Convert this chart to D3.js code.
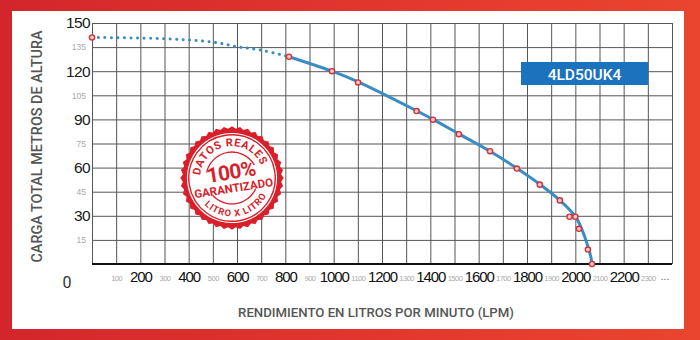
<!DOCTYPE html>
<html>
<head>
<meta charset="utf-8">
<script src="https://cdn.jsdelivr.net/npm/d3@7"></script>
<style>
  body { margin: 0; background: #fff; }
  svg { display: block; font-family: Roboto, "Open Sans", sans-serif; }
</style>
</head>
<body>
<div id="chart"></div>
<script>
// chart values
var modelName = "4LD50UK4";
var xMajorTicks = [200, 400, 600, 800, 1000, 1200, 1400, 1600, 1800, 2000, 2200];
var xMinorTicks = [100, 300, 500, 700, 900, 1100, 1300, 1500, 1700, 1900, 2100, 2300];
var yMajorTicks = [30, 60, 90, 120, 150];
var yMinorTicks = [15, 45, 75, 105, 135];

// measured points (LPM, metres)
var pointFlow = [0, 815, 993, 1101, 1343, 1411, 1518, 1647, 1758, 1853, 1936, 1976, 2000, 2015, 2052, 2069];
var pointHead = [141, 129, 120, 113, 95.2, 89.8, 80.8, 70.2, 59.4, 49.4, 39.6, 29.4, 29.4, 21.9, 9, 0];

// dotted (extrapolated) part of the curve
var dottedFlow = [0, 300, 500, 600, 700, 815];
var dottedHead = [141, 140.2, 138.1, 135.3, 133.1, 129];

// fitted solid curve
var curveFlow = [815, 993, 1101, 1343, 1411, 1518, 1647, 1758, 1853, 1936, 2000, 2030, 2052, 2064, 2069];
var curveHead = [129, 120, 113.4, 95.4, 90, 81, 70.2, 59.6, 49.6, 39.6, 29.6, 20.5, 11, 4.5, 0];

var W = 700, H = 340;
var margin = { top: 23, right: 28, bottom: 76, left: 92 };
var plotW = 672 - margin.left;
var plotH = 264 - margin.top;

var svg = d3.select("#chart").append("svg")
    .attr("width", W)
    .attr("height", H);

// red frame
var defs = svg.append("defs");
var grad = defs.append("linearGradient")
    .attr("id", "frameGrad")
    .attr("x1", "0%").attr("x2", "100%").attr("y1", "0%").attr("y2", "0%");
grad.append("stop").attr("offset", "0%").attr("stop-color", "#d3262c");
grad.append("stop").attr("offset", "55%").attr("stop-color", "#e2372e");
grad.append("stop").attr("offset", "100%").attr("stop-color", "#e9452f");

svg.append("rect").attr("width", W).attr("height", H).attr("fill", "url(#frameGrad)");
svg.append("rect")
    .attr("x", 12).attr("y", 11)
    .attr("width", 672).attr("height", 318)
    .attr("fill", "#fff");

var x = d3.scaleLinear().domain([0, 2400]).range([0, plotW]);
var y = d3.scaleLinear().domain([0, 150]).range([plotH, 0]);
var fmt = d3.format("d");

var g = svg.append("g")
    .attr("transform", "translate(" + margin.left + "," + margin.top + ")");

// grid
var xGrid = [0].concat(xMajorTicks, xMinorTicks, [2400]);
var yGrid = yMajorTicks.concat(yMinorTicks);

g.append("g")
    .attr("class", "grid")
    .attr("transform", "translate(0," + plotH + ")")
    .call(d3.axisBottom(x).tickValues(xGrid).tickSize(-plotH).tickFormat(""))
    .call(function (s) { s.select(".domain").remove(); });

g.append("g")
    .attr("class", "grid")
    .call(d3.axisLeft(y).tickValues(yGrid).tickSize(-plotW).tickFormat(""))
    .call(function (s) { s.select(".domain").remove(); });

g.selectAll(".grid line")
    .attr("stroke", "#555")
    .attr("stroke-width", 1);

// baseline
g.append("line")
    .attr("x1", x(0)).attr("x2", x(2400))
    .attr("y1", y(0)).attr("y2", y(0))
    .attr("stroke", "#111")
    .attr("stroke-width", 2.2);

// y labels
g.append("g")
    .call(d3.axisLeft(y).tickValues(yMajorTicks).tickSize(0).tickPadding(2).tickFormat(fmt))
    .call(function (s) {
        s.select(".domain").remove();
        s.selectAll("text")
            .attr("fill", "#1a1a1a")
            .style("font-size", "15.5px")
            .style("letter-spacing", "-0.6px");
    });

g.append("g")
    .call(d3.axisLeft(y).tickValues(yMinorTicks).tickSize(0).tickPadding(6).tickFormat(fmt))
    .call(function (s) {
        s.select(".domain").remove();
        s.selectAll("text")
            .attr("fill", "#a8a8a8")
            .style("font-size", "8.5px");
    });

// x labels
g.append("g")
    .attr("transform", "translate(0," + plotH + ")")
    .call(d3.axisBottom(x).tickValues(xMajorTicks).tickSize(0).tickFormat(fmt))
    .call(function (s) {
        s.select(".domain").remove();
        s.selectAll("text")
            .attr("y", 17.5).attr("dy", 0)
            .attr("fill", "#111")
            .style("font-size", "15px")
            .style("font-weight", 500)
            .style("letter-spacing", "-1.1px");
    });

g.append("g")
    .attr("transform", "translate(0," + plotH + ")")
    .call(d3.axisBottom(x).tickValues(xMinorTicks).tickSize(0).tickFormat(fmt))
    .call(function (s) {
        s.select(".domain").remove();
        s.selectAll("text")
            .attr("y", 16.5).attr("dy", 0)
            .attr("fill", "#a8a8a8")
            .style("font-size", "7.5px")
            .style("letter-spacing", "-0.5px");
    });

// origin label and trailing dots
g.append("text")
    .attr("x", x(0) - 25)
    .attr("y", y(0) + 24)
    .attr("text-anchor", "middle")
    .attr("fill", "#333")
    .style("font-size", "16px")
    .text("0");

g.append("text")
    .attr("x", x(2400) - 7)
    .attr("y", y(0) + 16)
    .attr("text-anchor", "middle")
    .attr("fill", "#666")
    .style("font-size", "11px")
    .text("...");

// axis titles
svg.append("text")
    .attr("transform", "translate(42," + (margin.top + plotH / 2 + 3) + ") rotate(-90)")
    .attr("text-anchor", "middle")
    .attr("fill", "#555")
    .style("font-size", "14.4px")
    .style("font-weight", 500)
    .text("CARGA TOTAL METROS DE ALTURA");

svg.append("text")
    .attr("x", 376)
    .attr("y", 317)
    .attr("text-anchor", "middle")
    .attr("fill", "#555")
    .style("font-size", "13.2px")
    .style("font-weight", 500)
    .text("RENDIMIENTO EN LITROS POR MINUTO (LPM)");

// stamp
var stamp = svg.append("g")
    .attr("transform", "translate(232,178) rotate(-9) scale(1.1)");
var stampRed = "#d81f2a";
var teeth = d3.range(0, 80).map(function (i) {
    var a = i / 80 * Math.PI * 2;
    var r = i % 2 === 0 ? 47 : 44.8;
    return [r * Math.cos(a), r * Math.sin(a)];
});
stamp.append("path")
    .attr("d", d3.line().curve(d3.curveLinearClosed)(teeth))
    .attr("fill", stampRed);
stamp.append("circle").attr("r", 41).attr("fill", "#fff");
stamp.append("circle").attr("r", 39.3).attr("fill", "none")
    .attr("stroke", stampRed).attr("stroke-width", 1.3);

defs.append("path").attr("id", "stampTop")
    .attr("d", "M -29,0 A 29,29 0 0 1 29,0");
defs.append("path").attr("id", "stampBottom")
    .attr("d", "M -35,0 A 35,35 0 0 0 35,0");

stamp.append("text")
    .attr("fill", stampRed)
    .style("font-size", "10px")
    .style("font-weight", 700)
    .style("letter-spacing", "0.6px")
    .append("textPath")
    .attr("href", "#stampTop")
    .attr("startOffset", "50%")
    .attr("text-anchor", "middle")
    .text("DATOS REALES");

stamp.append("text")
    .attr("fill", stampRed)
    .style("font-size", "8.5px")
    .style("font-weight", 700)
    .style("letter-spacing", "0.8px")
    .append("textPath")
    .attr("href", "#stampBottom")
    .attr("startOffset", "50%")
    .attr("text-anchor", "middle")
    .text("LITRO X LITRO");

var arc = d3.arc().innerRadius(23).outerRadius(24.2);
stamp.append("path")
    .attr("d", arc({ startAngle: -1.2, endAngle: 1.2 }))
    .attr("fill", stampRed);
stamp.append("path")
    .attr("d", arc({ startAngle: Math.PI - 1.0, endAngle: Math.PI + 1.0 }))
    .attr("fill", stampRed);

stamp.append("text")
    .attr("y", 1)
    .attr("text-anchor", "middle")
    .attr("fill", stampRed)
    .style("font-size", "19px")
    .style("font-weight", 700)
    .style("letter-spacing", "-0.5px")
    .text("100%");

stamp.append("text")
    .attr("y", 13)
    .attr("text-anchor", "middle")
    .attr("fill", stampRed)
    .style("font-size", "10.5px")
    .style("font-weight", 700)
    .text("GARANTIZADO");

// legend box
var legend = svg.append("g").attr("transform", "translate(521,62)");
legend.append("rect")
    .attr("width", 127).attr("height", 23)
    .attr("fill", "#1c73bd");
legend.append("text")
    .attr("x", 63.5).attr("y", 17.5)
    .attr("text-anchor", "middle")
    .attr("fill", "#fff")
    .style("font-size", "15.5px")
    .style("font-weight", 500)
    .text(modelName);

// curves
var lineColor = "#3a8cc2";
var dotted = dottedFlow.map(function (d, i) { return [d, dottedHead[i]]; });
var solid = curveFlow.map(function (d, i) { return [d, curveHead[i]]; });
var points = pointFlow.map(function (d, i) { return [d, pointHead[i]]; });

var line = d3.line()
    .x(function (d) { return x(d[0]); })
    .y(function (d) { return y(d[1]); })
    .curve(d3.curveCatmullRom.alpha(0.5));

g.append("path")
    .attr("d", line(dotted))
    .attr("fill", "none")
    .attr("stroke", lineColor)
    .attr("stroke-width", 3)
    .attr("stroke-linecap", "round")
    .attr("stroke-dasharray", "0.1 6.4");

g.append("path")
    .attr("d", line(solid))
    .attr("fill", "none")
    .attr("stroke", lineColor)
    .attr("stroke-width", 3);

g.selectAll(".pt")
    .data(points)
    .enter().append("circle")
    .attr("class", "pt")
    .attr("cx", function (d) { return x(d[0]); })
    .attr("cy", function (d) { return y(d[1]); })
    .attr("r", 2.6)
    .attr("fill", "#f3c9c9")
    .attr("stroke", "#d0303a")
    .attr("stroke-width", 1.4);
</script>
</body>
</html>
